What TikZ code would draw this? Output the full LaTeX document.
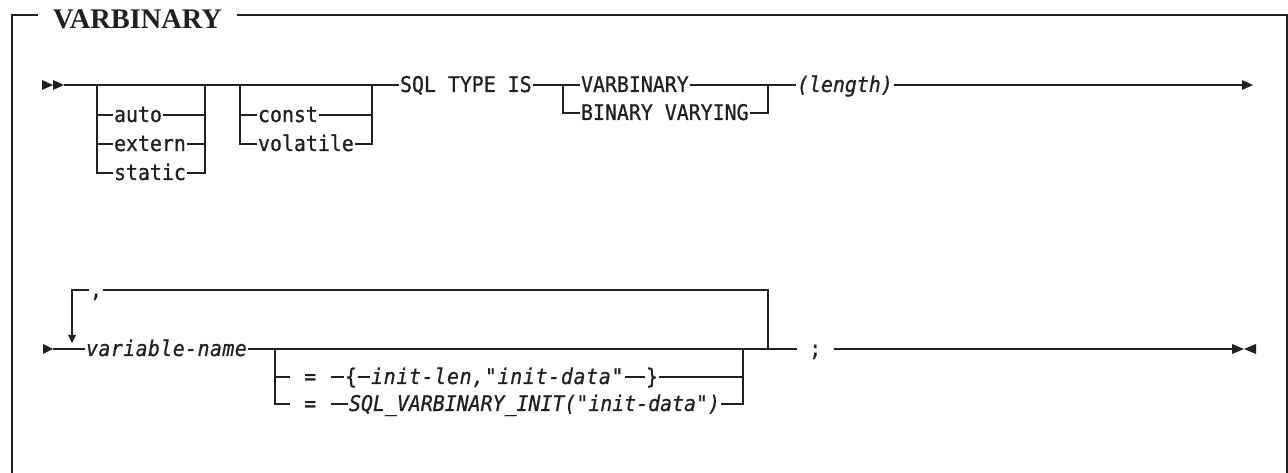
\documentclass[tikz,border=0pt]{standalone}
\usepackage{fontspec}
\newfontfamily\rrfont[FakeStretch=0.92,FakeBold=0.8]{DejaVu Sans Mono}
\newfontfamily\ttlfont{Liberation Serif}
\definecolor{ink}{HTML}{231F20}
\tikzset{
  rr/.style={font=\rrfont\fontsize{16.2pt}{18pt}\selectfont, text=ink, inner xsep=0.6pt, inner ysep=0pt, text height=13.5pt, text depth=3pt, anchor=west},
  rri/.style={rr, font=\rrfont\itshape\fontsize{16.2pt}{18pt}\selectfont},
  rail/.style={draw=ink, line width=0.9pt},
  tipfill/.style={fill=ink},
  framel/.style={draw=ink, line width=1.1pt},
}
\begin{document}
\begin{tikzpicture}[x=0.75pt,y=-0.75pt]
\useasboundingbox (0,0) rectangle (1288,473);
% frame and title
\coordinate (fTL) at (12,15);
\coordinate (fBL) at (12,473);
\coordinate (fTR) at (1287,15);
\coordinate (fBR) at (1287,473);
\node[font=\ttlfont\bfseries\fontsize{21.3pt}{24pt}\selectfont, text=ink, inner xsep=11.25pt, inner ysep=0pt, anchor=base] (title) at (137.5,28.5) {VARBINARY};
\draw[framel] (fBL) -- (fTL) -- (fTL -| title.west);
\draw[framel] (title.east |- fTL) -- (fTR) -- (fBR);

% ---------- row 1 ----------
\coordinate (s1) at (64,85);
\fill[tipfill] (42,80) -- (53,85) -- (42,90) -- cycle;
\fill[tipfill] (53,80) -- (s1) -- (53,90) -- cycle;

\node[rr] (auto) at (113,115) {auto};
\node[rr] (extern) at (113,144) {extern};
\node[rr] (static) at (113,173) {static};
\coordinate (g1a) at (97,85);
\coordinate (g1b) at (205,85);
\draw[rail] (g1a) |- (static.west);
\draw[rail] (g1a |- auto.west) -- (auto.west);
\draw[rail] (g1a |- extern.west) -- (extern.west);
\draw[rail] (auto.east) -- (g1b |- auto.east);
\draw[rail] (extern.east) -- (g1b |- extern.east);
\draw[rail] (static.east) -| (g1b);

\node[rr] (const) at (257,115) {const};
\node[rr] (volatile) at (257,144) {volatile};
\coordinate (g2a) at (240,85);
\coordinate (g2b) at (372,85);
\draw[rail] (g2a) |- (volatile.west);
\draw[rail] (g2a |- const.west) -- (const.west);
\draw[rail] (const.east) -- (g2b |- const.east);
\draw[rail] (volatile.east) -| (g2b);

\node[rr] (sql) at (399,85) {SQL TYPE IS};
\draw[rail] (s1) -- (sql.west);

\node[rr] (varb) at (580,85) {VARBINARY};
\node[rr] (binv) at (580,113) {BINARY VARYING};
\coordinate (g3a) at (563,85);
\coordinate (g3b) at (768,85);
\draw[rail] (sql.east) -- (varb.west);
\draw[rail] (g3a) |- (binv.west);
\draw[rail] (binv.east) -| (g3b);

\node[rri] (len) at (796,85) {(length)};
\draw[rail] (varb.east) -- (len.west);
\coordinate (e1) at (1253,85);
\draw[rail] (len.east) -- (1243,85);
\fill[tipfill] (1242,80) -- (e1) -- (1242,90) -- cycle;

% ---------- row 2 ----------
\coordinate (s2) at (53,349);
\fill[tipfill] (43,344) -- (s2) -- (43,354) -- cycle;
\node[rri] (varname) at (85,349) {\addfontfeature{LetterSpace=2}variable-name};
\draw[rail] (s2) -- (varname.west);

\coordinate (lpA) at (72,290);
\coordinate (lpB) at (768,290);
\coordinate (lpTip) at (72,343);
\node[rr] (comma) at (89,290) {,};
\draw[rail] (comma.west) -- (lpA) -- (72,336);
\fill[tipfill] (68,335) -- (lpTip) -- (76,335) -- cycle;
\draw[rail] (comma.east) -- (lpB) -- (lpB |- s2);

\node[rr, inner xsep=9pt] (semi) at (797,349) {;};
\draw[rail] (varname.east) -- (semi.west);
\coordinate (e2) at (1244,349);
\draw[rail] (semi.east) -- (1233,349);
\fill[tipfill] (1232,344) -- (e2) -- (1232,354) -- cycle;
\fill[tipfill] (1256,344) -- (e2) -- (1256,354) -- cycle;

\coordinate (b1) at (275,349);
\coordinate (b2) at (743,349);
\node[rr, inner xsep=10.5pt] (eqA) at (290,377) {=};
\node[rr] (lbr) at (344,377) {\{};
\node[rri] (ildata) at (370,377) {\addfontfeature{LetterSpace=3.2}init-len,"init-data"};
\node[rr] (rbr) at (645,377) {\}};
\node[rr, inner xsep=10.5pt] (eqB) at (290,404) {=};
\node[rri] (sqlinit) at (348,404) {SQL\_VARBINARY\_INIT("init-data")};

\draw[rail] (b1) |- (eqB.west);
\draw[rail] (b1 |- eqA.west) -- (eqA.west);
\draw[rail] (eqA.east) -- (lbr.west);
\draw[rail] (lbr.east) -- (ildata.west);
\draw[rail] (ildata.east) -- (rbr.west);
\draw[rail] (rbr.east) -- (b2 |- rbr.east);
\draw[rail] (eqB.east) -- (sqlinit.west);
\draw[rail] (sqlinit.east) -| (b2);
\end{tikzpicture}
\end{document}
